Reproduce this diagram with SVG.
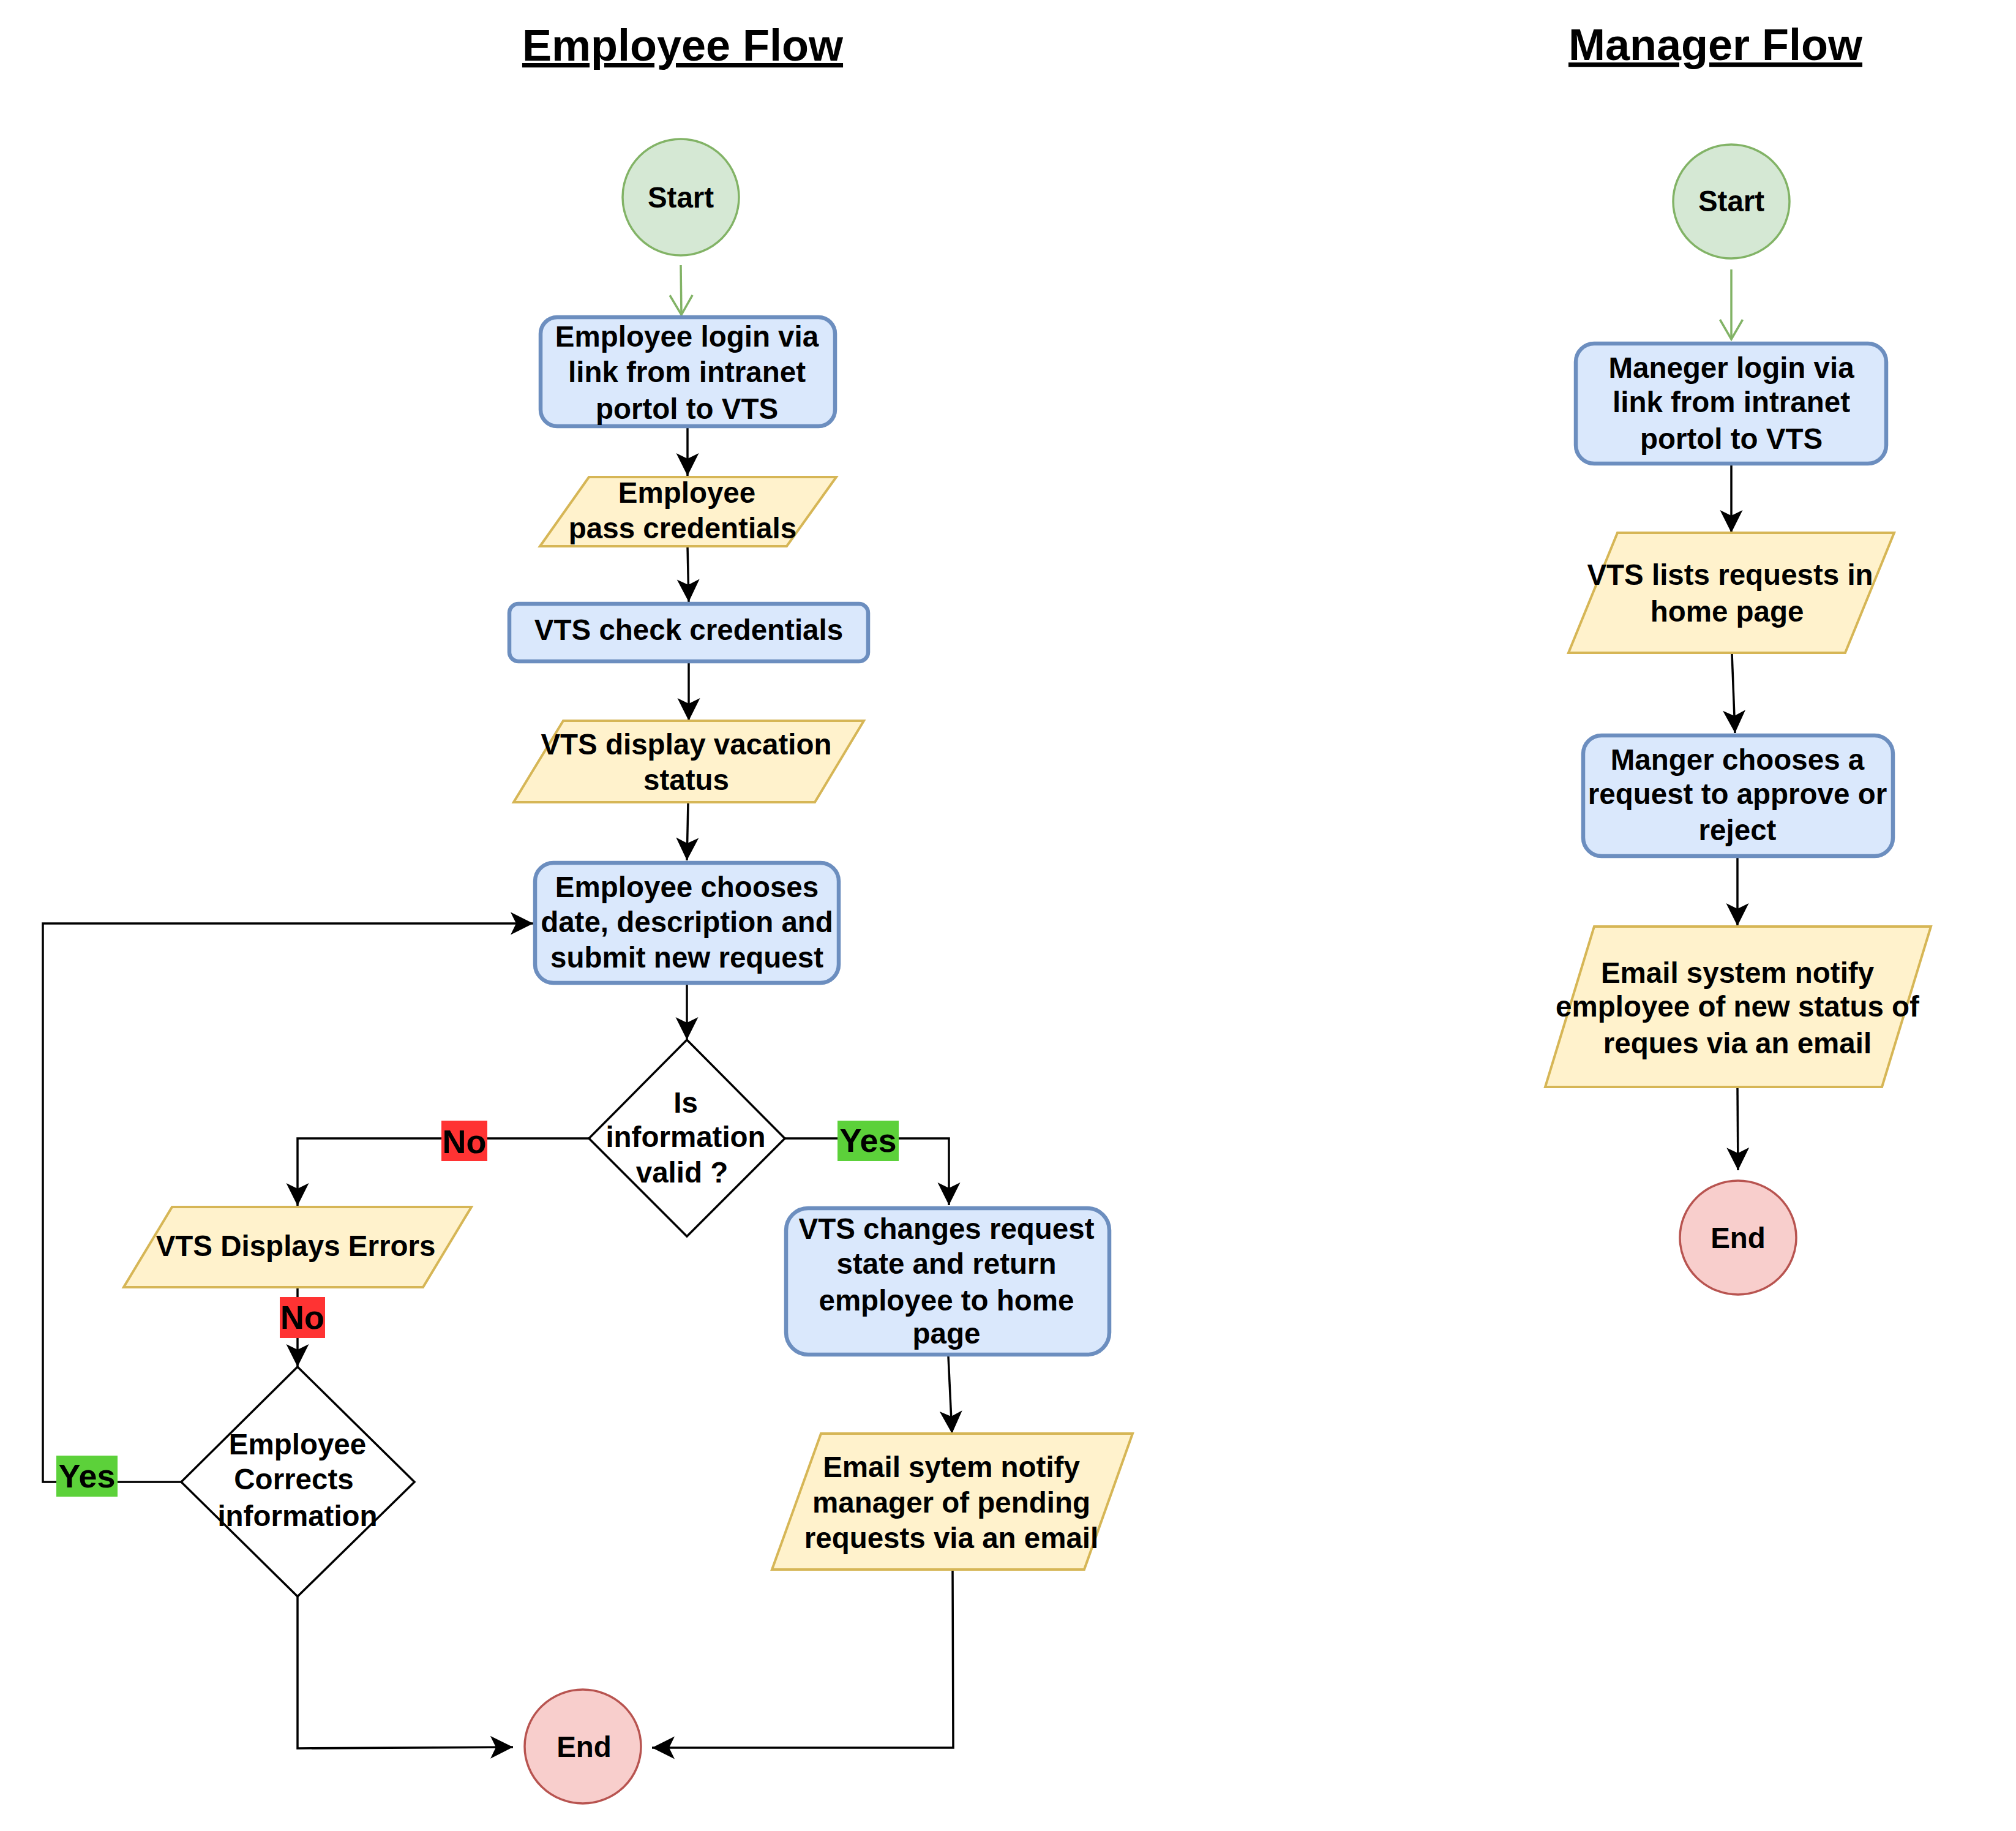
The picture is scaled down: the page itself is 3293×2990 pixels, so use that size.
<svg xmlns="http://www.w3.org/2000/svg" width="3293" height="2990" viewBox="0 0 3293 2990">
<defs>
<style>
text{font-family:"Liberation Sans",Arial,Helvetica,sans-serif;font-weight:bold;fill:#000;text-anchor:middle}
.t{font-size:47.5px}
.title{font-size:72px;text-decoration:underline}
.lbl{font-size:54px}
.proc{fill:#dae8fc;stroke:#6c8ebf;stroke-width:6.5}
.io{fill:#fff2cc;stroke:#d6b656;stroke-width:4}
.start{fill:#d5e8d4;stroke:#82b366;stroke-width:3.5}
.end{fill:#f8cecc;stroke:#b85450;stroke-width:3.5}
.dec{fill:#fff;stroke:#000;stroke-width:3.5}
.edge{fill:none;stroke:#000;stroke-width:3.5}
.gedge{fill:none;stroke:#82b366;stroke-width:3.5}
.no{fill:#ff3333}
.yes{fill:#5cd13a}
</style>
<marker id="arr" viewBox="-40 -20 42 40" refX="0" refY="0" markerWidth="42" markerHeight="40" markerUnits="userSpaceOnUse" orient="auto">
<path d="M0,0 L-37,-18.5 L-28,0 L-37,18.5 Z" fill="#000"/>
</marker>
<marker id="garr" viewBox="-40 -22 44 44" refX="0" refY="0" markerWidth="44" markerHeight="44" markerUnits="userSpaceOnUse" orient="auto">
<path d="M-32,-18.5 L0,0 L-32,18.5" fill="none" stroke="#82b366" stroke-width="3.5"/>
</marker>
</defs>
<rect width="3293" height="2990" fill="#fff"/>

<g id="titles">
<text class="title" x="1115" y="99">Employee Flow</text>
<text class="title" x="2802" y="98">Manager Flow</text>
</g>

<g id="connectors">
<!-- employee -->
<path class="gedge" d="M1112,433 L1113,514" marker-end="url(#garr)"/>
<path class="edge" d="M1123,699 L1123,777" marker-end="url(#arr)"/>
<path class="edge" d="M1123,892 L1125,983" marker-end="url(#arr)"/>
<path class="edge" d="M1125,1083 L1125,1177" marker-end="url(#arr)"/>
<path class="edge" d="M1124,1310 L1122,1405" marker-end="url(#arr)"/>
<path class="edge" d="M1122,1608 L1122,1698" marker-end="url(#arr)"/>
<path class="edge" d="M962,1859 L486,1859 L486,1969" marker-end="url(#arr)"/>
<path class="edge" d="M1282,1859 L1550,1859 L1550,1968" marker-end="url(#arr)"/>
<path class="edge" d="M486,2102 L486,2232" marker-end="url(#arr)"/>
<path class="edge" d="M296,2420 L70,2420 L70,1508 L871,1508" marker-end="url(#arr)"/>
<path class="edge" d="M486,2607 L486,2855 L838,2853" marker-end="url(#arr)"/>
<path class="edge" d="M1549,2215 L1555,2341" marker-end="url(#arr)"/>
<path class="edge" d="M1556,2563 L1557,2854 L1065,2854" marker-end="url(#arr)"/>
<!-- manager -->
<path class="gedge" d="M2828,440 L2828,554" marker-end="url(#garr)"/>
<path class="edge" d="M2828,760 L2828,870" marker-end="url(#arr)"/>
<path class="edge" d="M2829,1067 L2834,1197" marker-end="url(#arr)"/>
<path class="edge" d="M2838,1401 L2838,1512" marker-end="url(#arr)"/>
<path class="edge" d="M2838,1775 L2839,1911" marker-end="url(#arr)"/>
<!-- edge labels -->
<g id="edge-labels">
<rect class="no" x="721" y="1830" width="75" height="66"/>
<text class="lbl" x="758.5" y="1883">No</text>
<rect class="yes" x="1368" y="1830" width="100" height="66"/>
<text class="lbl" x="1418" y="1881">Yes</text>
<rect class="no" x="457" y="2118" width="74" height="67"/>
<text class="lbl" x="494" y="2170">No</text>
<rect class="yes" x="92" y="2377" width="100" height="67"/>
<text class="lbl" x="142" y="2429">Yes</text>
</g>
</g>

<g id="emp-start">
<circle class="start" cx="1112" cy="322" r="95"/>
<text class="t" x="1112" y="339">Start</text>
</g>
<g id="emp-login">
<rect class="proc" x="883" y="518" width="481" height="178" rx="27"/>
<text class="t" x="1122" y="566">Employee login via</text>
<text class="t" x="1122" y="624">link from intranet</text>
<text class="t" x="1122" y="684">portol to VTS</text>
</g>
<g id="emp-pass">
<polygon class="io" points="962,779 1366,779 1285,892 882,892"/>
<text class="t" x="1122" y="821">Employee</text>
<text class="t" x="1115" y="879">pass credentials</text>
</g>
<g id="emp-check">
<rect class="proc" x="832" y="986" width="586" height="94" rx="15"/>
<text class="t" x="1125" y="1045">VTS check credentials</text>
</g>
<g id="emp-display">
<polygon class="io" points="920,1177 1411,1177 1331,1310 839,1310"/>
<text class="t" x="1121" y="1232">VTS display vacation</text>
<text class="t" x="1121" y="1290">status</text>
</g>
<g id="emp-choose">
<rect class="proc" x="874" y="1409" width="496" height="196" rx="30"/>
<text class="t" x="1122" y="1465">Employee chooses</text>
<text class="t" x="1122" y="1522">date, description and</text>
<text class="t" x="1122" y="1580">submit new request</text>
</g>
<g id="emp-valid">
<polygon class="dec" points="1122,1698 1282,1859 1122,2019 962,1859"/>
<text class="t" x="1120" y="1817">Is</text>
<text class="t" x="1120" y="1873">information</text>
<text class="t" x="1114" y="1931">valid ?</text>
</g>
<g id="emp-errors">
<polygon class="io" points="281,1971 770,1971 691,2102 202,2102"/>
<text class="t" x="483" y="2051">VTS Displays Errors</text>
</g>
<g id="emp-corrects">
<polygon class="dec" points="486,2232 677,2420 486,2607 296,2420"/>
<text class="t" x="486" y="2375">Employee</text>
<text class="t" x="480" y="2432">Corrects</text>
<text class="t" x="486" y="2492">information</text>
</g>
<g id="emp-changes">
<rect class="proc" x="1284" y="1973" width="528" height="239" rx="36"/>
<text class="t" x="1546" y="2023">VTS changes request</text>
<text class="t" x="1546" y="2080">state and return</text>
<text class="t" x="1546" y="2140">employee to home</text>
<text class="t" x="1546" y="2194">page</text>
</g>
<g id="emp-email">
<polygon class="io" points="1341,2341 1850,2341 1771,2563 1261,2563"/>
<text class="t" x="1554" y="2412">Email sytem notify</text>
<text class="t" x="1554" y="2470">manager of pending</text>
<text class="t" x="1554" y="2528">requests via an email</text>
</g>
<g id="emp-end">
<ellipse class="end" cx="952" cy="2852" rx="95" ry="93"/>
<text class="t" x="954" y="2869">End</text>
</g>

<g id="mgr-start">
<ellipse class="start" cx="2828" cy="329" rx="95" ry="93"/>
<text class="t" x="2828" y="345">Start</text>
</g>
<g id="mgr-login">
<rect class="proc" x="2574" y="561" width="507" height="196" rx="30"/>
<text class="t" x="2828" y="617">Maneger login via</text>
<text class="t" x="2828" y="673">link from intranet</text>
<text class="t" x="2828" y="733">portol to VTS</text>
</g>
<g id="mgr-list">
<polygon class="io" points="2642,870 3094,870 3014,1066 2562,1066"/>
<text class="t" x="2826" y="955">VTS lists requests in</text>
<text class="t" x="2821" y="1015">home page</text>
</g>
<g id="mgr-choose">
<rect class="proc" x="2586" y="1201" width="506" height="197" rx="30"/>
<text class="t" x="2838" y="1257">Manger chooses a</text>
<text class="t" x="2838" y="1313">request to approve or</text>
<text class="t" x="2838" y="1372">reject</text>
</g>
<g id="mgr-email">
<polygon class="io" points="2604,1513 3154,1513 3074,1775 2524,1775"/>
<text class="t" x="2838" y="1605">Email system notify</text>
<text class="t" x="2838" y="1660">employee of new status of</text>
<text class="t" x="2838" y="1720">reques via an email</text>
</g>
<g id="mgr-end">
<ellipse class="end" cx="2839" cy="2021" rx="95" ry="93"/>
<text class="t" x="2839" y="2038">End</text>
</g>
</svg>
